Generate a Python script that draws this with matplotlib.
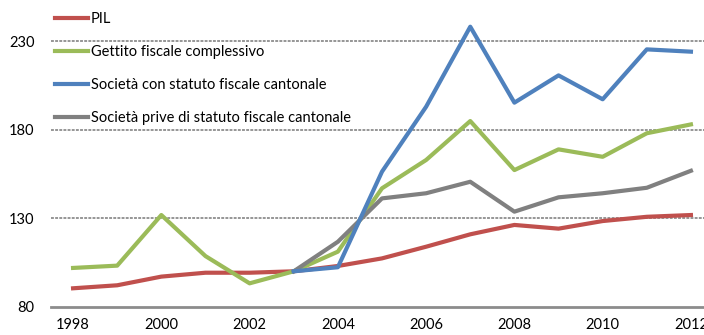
import matplotlib
matplotlib.use("Agg")
import matplotlib.pyplot as plt

years = list(range(1998, 2013))
pil = [90.4, 92.1, 97.0, 99.2, 99.2, 100.0, 103.0, 107.3, 113.9, 120.9, 126.2, 124.1, 128.4, 130.8, 131.8]
gettito = [101.9, 103.2, 131.8, 108.6, 93.2, 100.0, 111.1, 146.9, 162.9, 184.9, 157.2, 168.9, 164.7, 178.0, 183.0]
soc_years = list(range(2003, 2013))
soc_con = [100.0, 102.3, 156.3, 193.0, 238.2, 195.3, 210.7, 197.2, 225.4, 224.1]
soc_prive = [100.0, 116.7, 141.2, 144.1, 150.6, 133.7, 141.8, 144.1, 147.2, 156.8]

labels = ["PIL", "Gettito fiscale complessivo",
          "Società con statuto fiscale cantonale",
          "Società prive di statuto fiscale cantonale"]
colors = ["#C0504D", "#9BBB59", "#4F81BD", "#808080"]
yticks = [80, 130, 180, 230]
xticks = list(range(1998, 2013, 2))

plt.rcParams['font.family'] = ['Lato', 'DejaVu Sans']

fig = plt.figure(figsize=(7.04, 3.35), dpi=100)
ax = fig.add_axes([51/704, 28.3/335, 662/704, 306.7/335])

lw = 3.0
ax.plot(years, pil, color=colors[0], lw=lw, label=labels[0], zorder=3)
ax.plot(years, gettito, color=colors[1], lw=lw, label=labels[1], zorder=3)
ax.plot(soc_years, soc_con, color=colors[2], lw=lw, label=labels[2], zorder=4)
ax.plot(soc_years, soc_prive, color=colors[3], lw=lw, label=labels[3], zorder=3)

ax.set_xlim(1997.5, 2012.5)
ax.set_ylim(80, 253.3)
ax.set_yticks(yticks)
ax.set_xticks(xticks)
ax.set_xticklabels([str(x) for x in xticks])
for v in yticks[1:]:
    ax.axhline(v, color="#8E8E8E", lw=1.3, ls=(0, (1.6, 0.7)), zorder=1)

for s in ["left", "right", "top"]:
    ax.spines[s].set_visible(False)
ax.spines["bottom"].set_color("#8C8C8C")
ax.spines["bottom"].set_linewidth(2)
ax.tick_params(axis="both", length=0, labelsize=10.5, colors="black")
ax.tick_params(axis="x", pad=8)
ax.tick_params(axis="y", pad=12)

leg = ax.legend(loc="upper left", bbox_to_anchor=(0.0, 0.9746), frameon=False,
                fontsize=10.5, handlelength=2.27, handletextpad=0.14,
                labelspacing=1.3, borderaxespad=0.3, borderpad=0)

fig.savefig("out.png", dpi=100)
